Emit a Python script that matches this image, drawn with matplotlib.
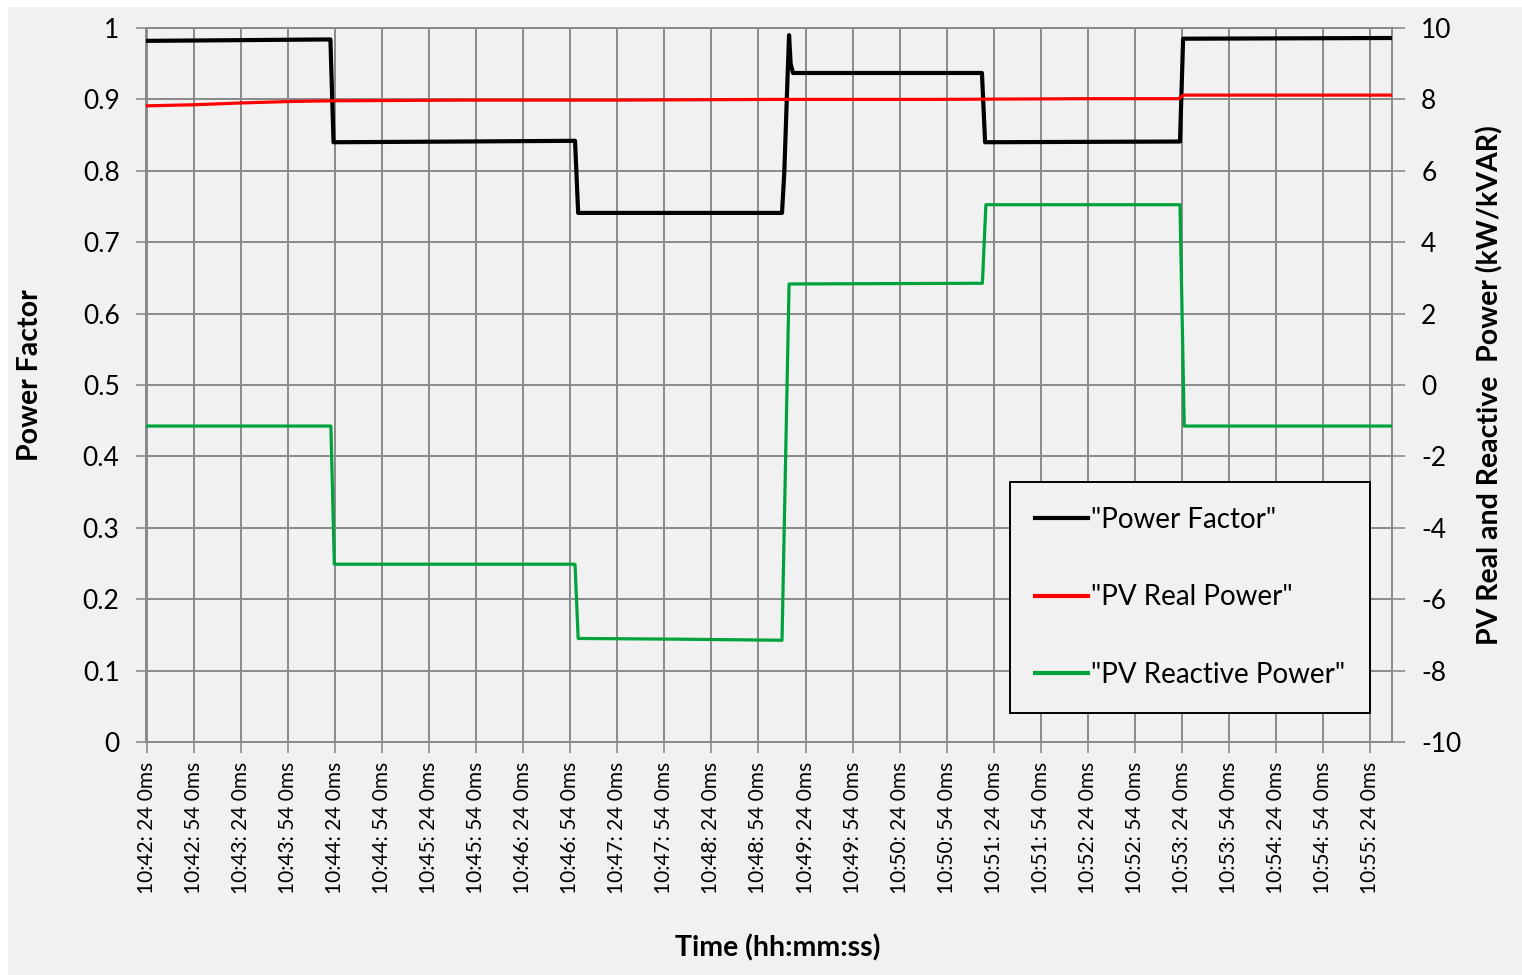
"""Power factor and PV real/reactive power step test, dual-axis line chart."""

import matplotlib

matplotlib.use("Agg")
import matplotlib.pyplot as plt
from matplotlib.lines import Line2D
from matplotlib.patches import Rectangle

plt.rcParams["font.family"] = ["Lato", "DejaVu Sans"]
plt.rcParams["axes.unicode_minus"] = False

# seconds after 10:42:24
pf_t = [0, 60, 117, 119, 200, 273, 275, 360, 405, 406.5, 408.5, 409.5, 410.5, 412, 532.5, 534.5, 658.8, 660.8, 794]
pf_v = [0.982, 0.983, 0.984, 0.840, 0.841, 0.842, 0.741, 0.741, 0.741, 0.80, 0.93, 0.99, 0.95, 0.937,
        0.937, 0.840, 0.841, 0.985, 0.986]

real_t = [0, 30, 60, 90, 117, 200, 300, 400, 500, 600, 658, 661, 794]
real_v = [7.82, 7.85, 7.90, 7.94, 7.96, 7.98, 7.98, 8.00, 8.00, 8.02, 8.02, 8.12, 8.12]

reac_t = [0, 117.3, 119.5, 273, 275, 340, 405, 409.5, 532.8, 535, 658.8, 661.5, 794]
reac_v = [-1.15, -1.15, -5.02, -5.02, -7.10, -7.12, -7.15, 2.83, 2.85, 5.05, 5.05, -1.15, -1.15]

base_sec = 10 * 3600 + 42 * 60 + 24
tick_secs = list(range(0, 781, 30))


def fmt_time(s):
    t = base_sec + s
    return f"{t // 3600}:{(t % 3600) // 60:02d}: {t % 60:02d} 0ms"


tick_labels = [fmt_time(s) for s in tick_secs]

GRID = "#8a8a8a"
BG = "#f1f1f1"

fig = plt.figure(figsize=(15.22, 9.75), dpi=100, facecolor="white")
fig.patches.append(Rectangle((8 / 1522, 0), 1, 1 - 7 / 975, transform=fig.transFigure,
                             facecolor=BG, edgecolor="none", zorder=-10))

ax = fig.add_axes([146 / 1522, 1 - 742 / 975, (1392 - 146) / 1522, (742 - 28) / 975])
ax.set_facecolor(BG)
ax.set_xlim(-0.6, 794)
ax.set_ylim(0, 1)
ax.set_yticks([i / 10 for i in range(11)])
ax.set_yticklabels(["0"] + [f"{i / 10:.1f}" for i in range(1, 10)] + ["1"])
ax.set_xticks(tick_secs)
ax.set_xticklabels(tick_labels, rotation=90, fontsize=15)
ax.grid(True, color=GRID, linewidth=1.4)
ax.set_axisbelow(True)
ax.tick_params(axis="y", labelsize=19, direction="out", length=7, width=1.2, color=GRID, pad=12)
ax.tick_params(axis="x", direction="out", length=8, width=1.2, color=GRID, pad=6)
for sp in ax.spines.values():
    sp.set_color(GRID)
    sp.set_linewidth(1.4)

ax.plot(pf_t, pf_v, color="black", linewidth=3.0, zorder=5)

ax2 = ax.twinx()
ax2.set_ylim(-10, 10)
ax2.set_yticks(range(-10, 11, 2))
ax2.tick_params(axis="y", labelsize=19, direction="out", length=9, width=1.2, color=GRID, pad=12)
for sp in ax2.spines.values():
    sp.set_visible(False)
ax2.plot(real_t, real_v, color="#ff0000", linewidth=2.3, zorder=3)
ax2.plot(reac_t, reac_v, color="#00a23c", linewidth=2.3, zorder=3)

fig.text(30 / 1522, 1 - 375 / 975, "Power Factor", rotation=90, ha="center", va="center",
         fontsize=20.5, fontweight="bold")
fig.text(1490 / 1522, 1 - 385 / 975, "PV Real and Reactive  Power (kW/kVAR)", rotation=90,
         ha="center", va="center", fontsize=20.5, fontweight="bold")
fig.text(778 / 1522, 1 - 948 / 975, "Time (hh:mm:ss)", ha="center", va="center",
         fontsize=20.5, fontweight="bold")

handles = [
    Line2D([], [], color="black", linewidth=3),
    Line2D([], [], color="#ff0000", linewidth=3),
    Line2D([], [], color="#00a23c", linewidth=3),
]
labels = ['"Power Factor"', '"PV Real Power"', '"PV Reactive Power"']
leg = ax2.legend(handles, labels, loc="upper left", bbox_to_anchor=(1010 / 1522, 1 - 482 / 975),
                 bbox_transform=fig.transFigure, fontsize=20, frameon=True, fancybox=False,
                 handlelength=1.9, handletextpad=0.1, labelspacing=1.85, borderpad=0.9,
                 borderaxespad=0)
leg.get_frame().set_edgecolor("black")
leg.get_frame().set_linewidth(1.4)
leg.get_frame().set_facecolor(BG)
leg.get_frame().set_alpha(1)

fig.savefig("out.png", dpi=100, facecolor=fig.get_facecolor())
